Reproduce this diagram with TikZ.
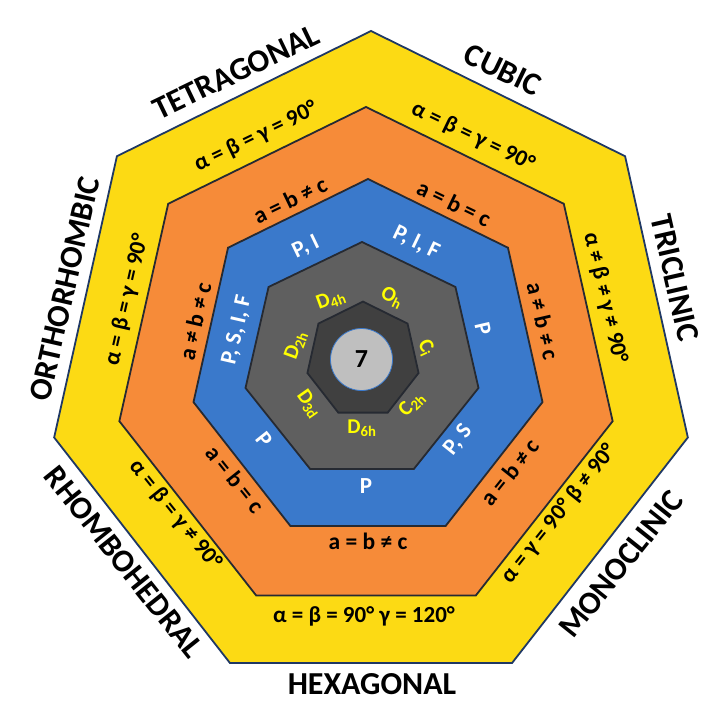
\documentclass[tikz,border=0pt]{standalone}
\usepackage{fontspec}
\setmainfont{Carlito}
\definecolor{crysyellow}{RGB}{252,218,20}
\definecolor{crysorange}{RGB}{246,139,57}
\definecolor{crysblue}{RGB}{58,121,203}
\definecolor{crysgray}{RGB}{95,95,95}
\definecolor{crysdark}{RGB}{64,64,64}
\definecolor{cryscore}{RGB}{191,191,191}
\definecolor{crysnavy}{RGB}{31,56,100}
\definecolor{crysedge}{RGB}{38,42,50}
\definecolor{crystext}{RGB}{255,255,0}

\tikzset{
    sysname/.style={font=\fontsize{32}{32}\selectfont\bfseries, text=black, inner sep=0pt},
    anglelabel/.style={font=\fontsize{23}{23}\selectfont\bfseries, text=black, inner sep=0pt},
    edgelabel/.style={font=\fontsize{23.5}{23.5}\selectfont\bfseries, text=black, inner sep=0pt},
    latticelabel/.style={font=\fontsize{23}{23}\selectfont\bfseries, text=white, inner sep=0pt},
    grouplabel/.style={font=\fontsize{21}{21}\selectfont\bfseries, text=crystext, inner sep=0pt},
}

\begin{document}
\begin{tikzpicture}[x=1pt, y=-1pt]
    \useasboundingbox (0,0) rectangle (719,719);
    % Nested heptagons, from the outside in.
    \foreach \band/\cx/\cy/\rx/\ry/\col/\edge in {
        yellowband/371/363.5/325/332.5/crysyellow/crysnavy,
        orangeband/366/364/253/257/crysorange/crysedge,
        blueband/368/361.5/179/182.5/crysblue/crysedge,
        grayband/362/361.4/119.5/119.4/crysgray/crysedge,
        darkband/363/360/57/58.4/crysdark/crysedge} {
        \foreach \k in {0,...,6} {
            \coordinate (\band-\k) at ({\cx+\rx*cos(90+\k*360/7)}, {\cy-\ry*sin(90+\k*360/7)});
        }
        \draw[fill=\col, draw=\edge, line width=1.8pt]
            (\band-0) -- (\band-1) -- (\band-2) -- (\band-3)
            -- (\band-4) -- (\band-5) -- (\band-6) -- cycle;
    }
    % Core.
    \node[circle, fill=cryscore, draw=crysblue, line width=0.8pt, minimum size=62pt, inner sep=0pt,
        font=\fontsize{26}{26}\selectfont\bfseries] (core) at (361.5, 359.5) {7};

    % Crystal systems.
    \node[sysname, rotate=25.7] (tetragonal) at (236, 72) {TETRAGONAL};
    \node[sysname, rotate=-25.7] (cubic) at (503, 70) {CUBIC};
    \node[sysname, rotate=-77.1] (triclinic) at (675, 278) {TRICLINIC};
    \node[sysname, rotate=51.4] (monoclinic) at (621, 564) {MONOCLINIC};
    \node[sysname] (hexagonal) at (372, 684) {HEXAGONAL};
    \node[sysname, rotate=-51.4] (rhombohedral) at (124, 562) {RHOMBOHEDRAL};
    \node[sysname, rotate=77.1] (orthorhombic) at (65, 289) {ORTHORHOMBIC};

    % Angles.
    \node[anglelabel, rotate=25.7] (tetragonal-angle) at (256, 137) {α = β = γ = 90°};
    \node[anglelabel, rotate=-25.7] (cubic-angle) at (473, 137) {α = β = γ = 90°};
    \node[anglelabel, rotate=-77.1] (triclinic-angle) at (605, 298) {α ≠ β ≠ γ ≠ 90°};
    \node[anglelabel, rotate=51.4] (monoclinic-angle) at (559, 514) {α = γ = 90° β ≠ 90°};
    \node[anglelabel] (hexagonal-angle) at (364, 616) {α = β = 90° γ = 120°};
    \node[anglelabel, rotate=-51.4] (rhombohedral-angle) at (175, 515) {α = β = γ ≠ 90°};
    \node[anglelabel, rotate=77.1] (orthorhombic-angle) at (127, 300) {α = β = γ = 90°};

    % Edges.
    \node[edgelabel, rotate=25.7] (tetragonal-edge) at (290, 200) {a = b ≠ c};
    \node[edgelabel, rotate=-25.7] (cubic-edge) at (454, 203) {a = b = c};
    \node[edgelabel, rotate=-77.1] (triclinic-edge) at (543, 321) {a ≠ b ≠ c};
    \node[edgelabel, rotate=51.4] (monoclinic-edge) at (510, 472) {a = b ≠ c};
    \node[edgelabel] (hexagonal-edge) at (368, 541) {a = b ≠ c};
    \node[edgelabel, rotate=-51.4] (rhombohedral-edge) at (235, 479) {a = b = c};
    \node[edgelabel, rotate=77.1] (orthorhombic-edge) at (195, 321) {a ≠ b ≠ c};

    % Lattices.
    \node[latticelabel, rotate=25.7] (tetragonal-lattice) at (306, 247) {P, I};
    \node[latticelabel, rotate=-25.7] (cubic-lattice) at (416, 243) {P, I, F};
    \node[latticelabel, rotate=-77.1] (triclinic-lattice) at (483, 329) {P};
    \node[latticelabel, rotate=51.4] (monoclinic-lattice) at (458, 440) {P, S};
    \node[latticelabel] (hexagonal-lattice) at (366, 486) {P};
    \node[latticelabel, rotate=-51.4] (rhombohedral-lattice) at (264, 440) {P};
    \node[latticelabel, rotate=77.1] (orthorhombic-lattice) at (237, 330) {P, S, I, F};

    % Point groups.
    \node[grouplabel, rotate=20] (tetragonal-group) at (331, 300) {D\textsubscript{4h}};
    \node[grouplabel, rotate=-25.7] (cubic-group) at (392, 298) {O\textsubscript{h}};
    \node[grouplabel, rotate=-65] (triclinic-group) at (426, 348) {C\textsubscript{i}};
    \node[grouplabel, rotate=45] (monoclinic-group) at (412, 404) {C\textsubscript{2h}};
    \node[grouplabel] (hexagonal-group) at (362, 428) {D\textsubscript{6h}};
    \node[grouplabel, rotate=-55] (rhombohedral-group) at (309, 404) {D\textsubscript{3d}};
    \node[grouplabel, rotate=70] (orthorhombic-group) at (296, 345) {D\textsubscript{2h}};
\end{tikzpicture}
\end{document}
